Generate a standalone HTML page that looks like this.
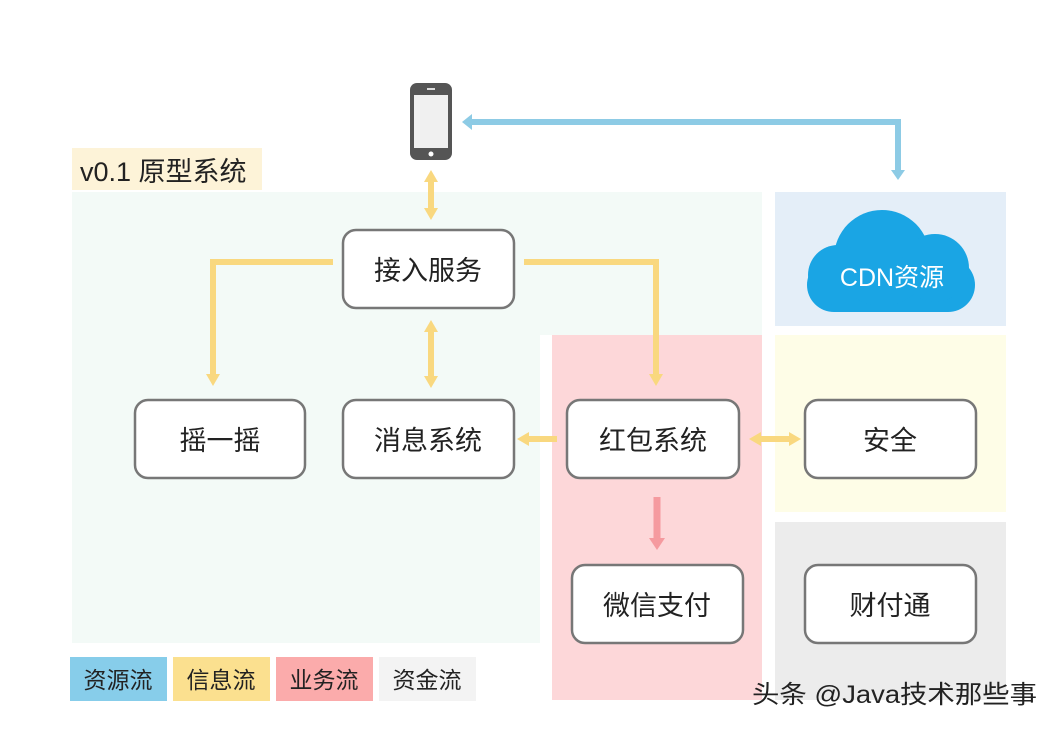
<!DOCTYPE html>
<html><head><meta charset="utf-8"><style>
html,body{margin:0;padding:0;background:#fff;}
svg{display:block;}
text{font-family:"Liberation Sans","Noto Sans CJK SC",sans-serif;}
</style></head><body>
<svg width="1059" height="732" viewBox="0 0 1059 732" xmlns="http://www.w3.org/2000/svg">
<rect x="0" y="0" width="1059" height="732" fill="#fff"/>
<rect x="72" y="192" width="468" height="451" fill="#f3faf7"/>
<rect x="540" y="192" width="222" height="143" fill="#f3faf7"/>
<rect x="552" y="335" width="210" height="365" fill="#fdd7d9"/>
<rect x="775" y="192" width="231" height="134" fill="#e4eef8"/>
<rect x="775" y="335" width="231" height="177" fill="#fefde7"/>
<rect x="775" y="522" width="231" height="178" fill="#ececec"/>
<rect x="72" y="148" width="190" height="42" fill="#fdf3d8"/>
<text x="80" y="181" font-size="27" fill="#222">v0.1 原型系统</text>
<rect x="410" y="83" width="42" height="77" rx="7" fill="#555"/>
<rect x="414" y="95" width="34" height="53" fill="#f0f0f0"/>
<rect x="427" y="88" width="8" height="2" fill="#ddd"/>
<circle cx="431" cy="154" r="2.5" fill="#fff"/>
<g fill="none" stroke="#8dcbe5" stroke-width="6">
<polyline points="470,122 898,122 898,172"/>
</g>
<polygon points="462,122 472,114 472,130" fill="#8dcbe5"/>
<polygon points="898,180 891,170 905,170" fill="#8dcbe5"/>
<g fill="none" stroke="#f9d87f" stroke-width="6">
<line x1="431" y1="178" x2="431" y2="212"/>
<polyline points="333,262 213,262 213,378"/>
<line x1="431" y1="328" x2="431" y2="380"/>
<polyline points="524,262 656,262 656,378"/>
<line x1="527" y1="439" x2="557" y2="439"/>
<line x1="756" y1="439" x2="792" y2="439"/>
</g>
<g fill="#f9d87f">
<polygon points="431,170 424,182 438,182"/>
<polygon points="431,220 424,208 438,208"/>
<polygon points="213,386 206,374 220,374"/>
<polygon points="431,320 424,332 438,332"/>
<polygon points="431,388 424,376 438,376"/>
<polygon points="656,386 649,374 663,374"/>
<polygon points="517,439 529,432 529,446"/>
<polygon points="749,439 761,432 761,446"/>
<polygon points="801,439 789,432 789,446"/>
</g>
<line x1="657" y1="497" x2="657" y2="540" stroke="#f59a9f" stroke-width="7"/>
<polygon points="657,550 649,538 665,538" fill="#f59a9f"/>
<g fill="#fff" stroke="#777" stroke-width="2.5">
<rect x="343" y="230" width="171" height="78" rx="13"/>
<rect x="135" y="400" width="170" height="78" rx="13"/>
<rect x="343" y="400" width="171" height="78" rx="13"/>
<rect x="567" y="400" width="172" height="78" rx="13"/>
<rect x="805" y="400" width="171" height="78" rx="13"/>
<rect x="572" y="565" width="171" height="78" rx="13"/>
<rect x="805" y="565" width="171" height="78" rx="13"/>
</g>
<g font-size="27" fill="#222" text-anchor="middle">
<text x="428" y="280">接入服务</text>
<text x="220" y="450">摇一摇</text>
<text x="428" y="450">消息系统</text>
<text x="653" y="450">红包系统</text>
<text x="890" y="450">安全</text>
<text x="657" y="615">微信支付</text>
<text x="890" y="615">财付通</text>
</g>
<g fill="#1aa5e4">
<rect x="807" y="258" width="168" height="54" rx="27"/>
<circle cx="882" cy="258" r="48"/>
<circle cx="838" cy="275" r="30"/>
<circle cx="935" cy="268" r="34"/>
</g>
<text x="892" y="286" font-size="25" fill="#fff" text-anchor="middle">CDN资源</text>
<rect x="70" y="657" width="97" height="44" fill="#87cdea"/>
<rect x="173" y="657" width="97" height="44" fill="#fbe08f"/>
<rect x="276" y="657" width="97" height="44" fill="#fbabab"/>
<rect x="379" y="657" width="97" height="44" fill="#f3f3f3"/>
<g font-size="23" fill="#222" text-anchor="middle">
<text x="118" y="688">资源流</text>
<text x="221" y="688">信息流</text>
<text x="324" y="688">业务流</text>
<text x="427" y="688">资金流</text>
</g>
<text x="752" y="703" font-size="25" fill="#222" textLength="285" lengthAdjust="spacingAndGlyphs">头条 @Java技术那些事</text>
</svg>
</body></html>
